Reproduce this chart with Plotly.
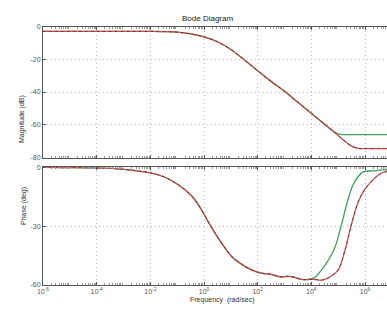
import plotly.graph_objects as go
from plotly.subplots import make_subplots

# log10 of frequency (rad/sec) for the magnitude curves
mag_logw = [-6, -4, -2, -1.5, -1, -0.5, 0, 0.5, 1, 1.5, 2, 2.5, 3, 3.5, 4, 4.5,
            4.75, 5, 5.25, 5.5, 5.75, 6, 6.5, 6.82]
mag_red = [-3, -3, -3, -3.1, -3.4, -4.5, -6.3, -9.3, -14, -20.3, -27, -33.5,
           -39.5, -46.3, -53, -59.7, -63, -66.5, -70, -73, -74.4, -74.5, -74.5, -74.5]
mag_green = [-3, -3, -3, -3.1, -3.4, -4.5, -6.3, -9.3, -14, -20.3, -27, -33.5,
             -39.5, -46.3, -53, -59.7, -63.2, -65.6, -66, -66, -66, -66, -66, -66]

# log10 of frequency for the phase curves
ph_logw_low = [-6, -5, -4, -3, -2.5, -2, -1.5, -1, -0.5, -0.19, 0.19, 0.68, 1.05,
               1.54, 1.91, 2.2, 2.53, 2.85, 3.15, 3.4, 3.64, 3.89]
ph_low = [0, -0.1, -0.3, -1, -1.8, -2.8, -4.8, -8.5, -14, -19.5, -28.6, -39.2, -45.8,
          -50.7, -53.2, -54.2, -54.8, -56, -55.7, -56.3, -57.3, -57.3]
ph_logw_green = [4.1, 4.38, 4.65, 4.88, 5.12, 5.37, 5.55, 5.74, 5.93, 6.3, 6.82]
ph_green = [-56.5, -52.4, -47, -40.9, -29.4, -16.3, -9, -4.8, -2.3, -1.8, -1.2]
ph_logw_red = [4.14, 4.4, 4.63, 5.0, 5.25, 5.49, 5.74, 5.99, 6.36, 6.6, 6.82]
ph_red = [-57.3, -57.6, -56.5, -52.4, -42.5, -29.4, -17.9, -11.3, -5.5, -3, -2]

x_tick_pow = [-6, -4, -2, 0, 2, 4, 6]
mag_ticks = [0, -20, -40, -60, -80]
ph_ticks = [0, -30, -60]

RED = "#d44a4a"
GREEN = "#3fa35a"
DARK = "#3a3a3a"


def freq(logs):
    return [10 ** v for v in logs]


fig = make_subplots(rows=2, cols=1, shared_xaxes=True)

w_red_ph = freq(ph_logw_low + ph_logw_red)
p_red = ph_low + ph_red
w_green_ph = freq(ph_logw_low + ph_logw_green)
p_green = ph_low + ph_green

line_kw = dict(mode="lines", showlegend=False, hoverinfo="skip")
dash_style = dict(color=DARK, width=0.9, dash="2px,4px", shape="spline")
fig.add_trace(go.Scatter(x=freq(mag_logw), y=mag_green, line=dict(color=GREEN, width=1.3, shape="spline"), **line_kw), row=1, col=1)
fig.add_trace(go.Scatter(x=freq(mag_logw), y=mag_red, line=dict(color=RED, width=1.3, shape="spline"), **line_kw), row=1, col=1)
fig.add_trace(go.Scatter(x=freq(mag_logw), y=mag_red, line=dash_style, **line_kw), row=1, col=1)

fig.add_trace(go.Scatter(x=w_green_ph, y=p_green, line=dict(color=GREEN, width=1.3, shape="spline"), **line_kw), row=2, col=1)
fig.add_trace(go.Scatter(x=w_red_ph, y=p_red, line=dict(color=RED, width=1.3, shape="spline"), **line_kw), row=2, col=1)
fig.add_trace(go.Scatter(x=w_red_ph, y=p_red, line=dash_style, **line_kw), row=2, col=1)

H = 322
L = 43
W = 387 - L
tick_font = dict(family="Liberation Sans, Arial, sans-serif", size=7, color="#555")
minor_vals = [m * 10 ** p for p in range(-6, 7) for m in range(2, 10)]

xaxis_common = dict(
    type="log", range=[-6, 6.82],
    showline=True, linecolor="#555", linewidth=1, mirror="allticks",
    ticks="inside", ticklen=3, tickcolor="#555",
    tickmode="array", tickvals=[10 ** p for p in x_tick_pow],
    ticktext=[f"10<sup>{p}</sup>" for p in x_tick_pow],
    showgrid=True, gridcolor="#bdbdbd", griddash="1px,3px", gridwidth=1,
    minor=dict(ticks="inside", ticklen=2, tickcolor="#999", tickmode="array",
               tickvals=minor_vals, showgrid=False),
    tickfont=tick_font, zeroline=False,
)
fig.update_xaxes(**xaxis_common)
fig.update_xaxes(showticklabels=False, row=1, col=1)

yaxis_common = dict(
    showline=True, linecolor="#555", linewidth=1, mirror=False,
    ticks="inside", ticklen=3, tickcolor="#555",
    showgrid=True, gridcolor="#bdbdbd", griddash="1px,3px", gridwidth=1,
    tickfont=tick_font, zeroline=False,
)
fig.update_yaxes(**yaxis_common)
fig.update_yaxes(range=[-80, 0], tickvals=mag_ticks, ticktext=[str(v) for v in mag_ticks],
                 domain=[1 - 157 / H, 1 - 23 / H], row=1, col=1)
fig.update_yaxes(range=[-60, 0], tickvals=ph_ticks, ticktext=[str(v) for v in ph_ticks],
                 domain=[1 - 287 / H, 1 - 167 / H], row=2, col=1)

label_font = dict(family="Liberation Sans, Arial, sans-serif", size=7, color="#333")
fig.update_layout(
    width=387, height=H,
    margin=dict(l=L, r=0, t=0, b=0),
    paper_bgcolor="white", plot_bgcolor="white",
    annotations=[
        dict(text="Bode Diagram", x=(207 - L) / W, y=1 - 8 / H, xref="paper", yref="paper",
             showarrow=False, font=dict(family="Liberation Sans, Arial, sans-serif", size=8, color="#222")),
        dict(text="Magnitude (dB)", x=(16 - L) / W, y=1 - 91 / H, xref="paper", yref="paper",
             showarrow=False, textangle=-90, font=label_font),
        dict(text="Phase (deg)", x=(18 - L) / W, y=1 - 228 / H, xref="paper", yref="paper",
             showarrow=False, textangle=-90, font=label_font),
        dict(text="Frequency  (rad/sec)", x=(222 - L) / W, y=1 - 309 / H, xref="paper", yref="paper",
             showarrow=False, font=label_font),
    ],
)

fig.write_html("out.html")
